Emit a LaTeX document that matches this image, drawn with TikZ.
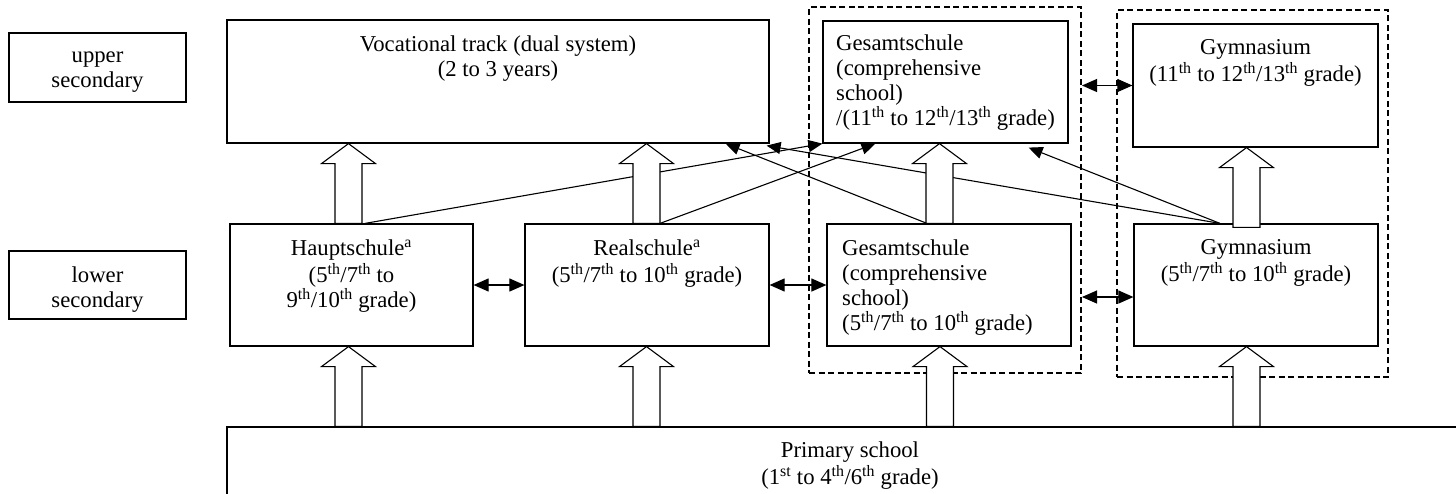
\documentclass[tikz,border=0pt]{standalone}
\usepackage{fontspec}
\setmainfont{Liberation Serif}
\usetikzlibrary{arrows.meta,calc}
\newcommand\tsup[1]{\textsuperscript{#1}}
\newcommand\blockup[3]{%
  \draw[blockarr] let \p1=(#2), \p2=(#3) in
    ({#1pt-13.5pt},\y1) -- ({#1pt-13.5pt},\y2-20pt) -- ({#1pt-27pt},\y2-20pt) --
    ({#1pt},\y2) -- ({#1pt+27pt},\y2-20pt) -- ({#1pt+13.5pt},\y2-20pt) --
    ({#1pt+13.5pt},\y1) -- cycle;}
\begin{document}
\begin{tikzpicture}[x=1pt,y=-1pt,
  box/.style={draw=black, line width=1.2pt, inner sep=0pt},
  grp/.style={draw=black, line width=2pt, dash pattern=on 6pt off 3.5pt, inner sep=0pt},
  txt/.style={inner sep=0pt, font=\fontsize{22.7}{25}\selectfont, align=center, anchor=north},
  ltxt/.style={txt, align=left, anchor=north west},
  link/.style={draw=black, line width=1.1pt, -{Triangle[length=14pt,width=12pt]}},
  dbl/.style={draw=black, line width=1.1pt, {Triangle[length=15pt,width=13pt]}-{Triangle[length=15pt,width=13pt]}},
  blockarr/.style={draw=black, fill=white, line width=1.1pt, line join=miter}]
\useasboundingbox (0,0) rectangle (1456,493);
\clip (0,0) rectangle (1456,493);

% group boxes
\node[grp, minimum width=272pt, minimum height=366pt] (gesgrp) at (945,190) {};
\node[grp, minimum width=271pt, minimum height=367pt] (gymgrp) at (1252.5,193.5) {};

% boxes
\node[box, minimum width=177pt, minimum height=69pt] (us) at (97.5,67.5) {};
\node[box, minimum width=177pt, minimum height=68pt] (ls) at (97.5,285) {};
\node[box, minimum width=542pt, minimum height=123pt] (voc) at (498,81.5) {};
\node[box, minimum width=245pt, minimum height=122pt] (gesu) at (945.5,82) {};
\node[box, minimum width=245pt, minimum height=123pt] (gymu) at (1255.5,85.5) {};
\node[box, minimum width=243pt, minimum height=122pt] (haupt) at (351.5,285) {};
\node[box, minimum width=244pt, minimum height=122pt] (real) at (647,285) {};
\node[box, minimum width=244pt, minimum height=122pt] (gesl) at (949,285) {};
\node[box, minimum width=244pt, minimum height=122pt] (gyml) at (1256,285) {};
\node[box, minimum width=1246pt, minimum height=96pt] (prim) at (850,475) {};

% thin connectors
\draw[link] ([xshift=13.5pt]haupt.north) -- (gesu.south west);
\draw[link] ([xshift=13pt]real.north) -- ([xshift=53pt]gesu.south west);
\draw[link] ([xshift=-22pt]gesl.north) -- ([xshift=-44pt]voc.south east);
\draw[link] ([xshift=-36pt]gyml.north) -- ([xshift=-3pt,yshift=-2pt]voc.south east);
\draw[link] ([xshift=-36pt]gyml.north) -- ([xshift=-40pt,yshift=-4pt]gesu.south east);

% block arrows
\blockup{348.5}{prim.north}{haupt.south}
\blockup{646.5}{prim.north}{real.south}
\blockup{940}{prim.north}{gesl.south}
\blockup{1246.5}{prim.north}{gyml.south}
\blockup{348.5}{haupt.north}{voc.south}
\blockup{646.5}{real.north}{voc.south}
\blockup{939.5}{gesl.north}{gesu.south}
\blockup{1246.5}{[yshift=-4pt]gyml.north}{gymu.south}

% double arrows
\draw[dbl] (haupt.east) -- (real.west);
\draw[dbl] (real.east) -- (gesl.west);
\coordinate (gl) at ([yshift=-12pt]gyml.west);
\draw[dbl] (gl -| gesgrp.east) -- (gl);
\draw[dbl] (gymu.west -| gesgrp.east) -- (gymu.west);

% texts
\node[txt] (ust) at (97.5,44.5) {\strut upper\\secondary};
\node[txt] (lst) at (97.5,264.5) {\strut lower\\secondary};
\node[txt] (voct) at (498,33.5) {\strut Vocational track (dual system)\\(2 to 3 years)};
\node[ltxt] (gesut) at (836,32.5) {\strut Gesamtschule\\(comprehensive\\school)\\/(11\tsup{th} to 12\tsup{th}/13\tsup{th} grade)};
\node[txt] (gymut) at (1255.5,36.5) {\strut Gymnasium\\(11\tsup{th} to 12\tsup{th}/13\tsup{th} grade)};
\node[txt] (hauptt) at (351.5,237.5) {\strut Hauptschule\tsup{a}\\(5\tsup{th}/7\tsup{th} to\\9\tsup{th}/10\tsup{th} grade)};
\node[txt] (realt) at (647,237.5) {\strut Realschule\tsup{a}\\(5\tsup{th}/7\tsup{th} to 10\tsup{th} grade)};
\node[ltxt] (geslt) at (842,237.5) {\strut Gesamtschule\\(comprehensive\\school)\\(5\tsup{th}/7\tsup{th} to 10\tsup{th} grade)};
\node[txt] (gymlt) at (1256,236.5) {\strut Gymnasium\\(5\tsup{th}/7\tsup{th} to 10\tsup{th} grade)};
\node[txt] (primt) at (850,439.5) {\strut Primary school\\(1\tsup{st} to 4\tsup{th}/6\tsup{th} grade)};
\end{tikzpicture}
\end{document}
